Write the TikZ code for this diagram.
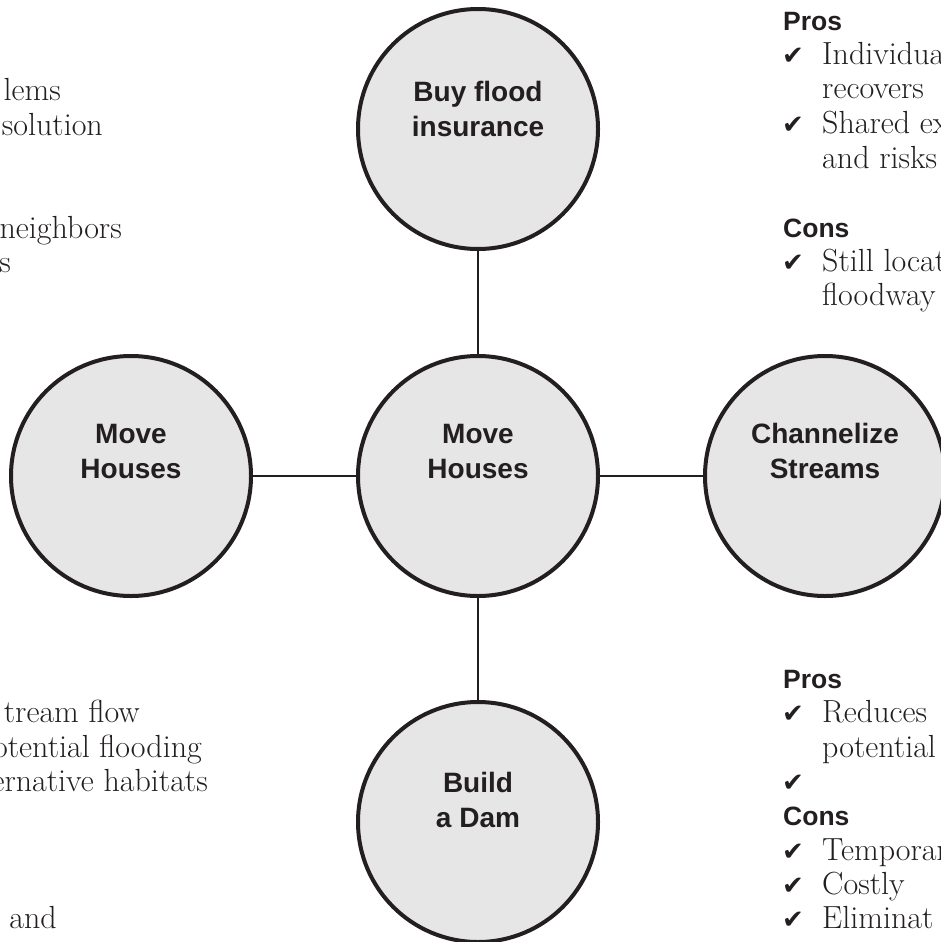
\documentclass[tikz,border=0pt]{standalone}
\usepackage{fontspec}
\setsansfont{Liberation Sans}
\newfontfamily\tickfont{DejaVu Sans}
\definecolor{inkblack}{HTML}{231F20}
\definecolor{bubblegray}{HTML}{E6E6E6}
\begin{document}
\begin{tikzpicture}[x=1pt,y=-1pt]
    % Define the styles for the bubbles, their labels and the lists
    \tikzstyle{bubble}=[circle, draw=inkblack, line width=4pt, fill=bubblegray, minimum size=240pt, inner sep=0pt]
    \tikzstyle{bubtext}=[align=center, inner sep=0pt, text=inkblack, font=\sffamily\bfseries\fontsize{28}{35}\selectfont]
    \tikzstyle{head}=[anchor=base west, inner sep=0pt, text=inkblack, font=\sffamily\bfseries\fontsize{26.5}{30}\selectfont]
    \tikzstyle{tickmark}=[anchor=base west, inner sep=0pt, text=inkblack, font=\tickfont\fontsize{26}{30}\selectfont]
    \tikzstyle{item}=[anchor=base west, inner sep=0pt, text=inkblack, font=\fontsize{32}{34}\selectfont]
    \tikzstyle{cutitem}=[item, anchor=base east]
    \tikzstyle{link}=[line width=2pt, draw=inkblack]

    \useasboundingbox (0,0) rectangle (940,942);

    % Draw the bubbles
    \node[bubble] (insure) at (478,129) {};
    \node[bubble] (mid) at (478,476) {};
    \node[bubble] (moveL) at (131,476) {};
    \node[bubble] (channel) at (825,476) {};
    \node[bubble] (dam) at (478,822) {};

    \node[bubtext, yshift=20pt] (insureT) at (insure) {Buy flood\\insurance};
    \node[bubtext, yshift=25pt] (midT) at (mid) {Move\\Houses};
    \node[bubtext, yshift=25pt] (moveLT) at (moveL) {Move\\Houses};
    \node[bubtext, yshift=25pt] (channelT) at (channel) {Channelize\\Streams};
    \node[bubtext, yshift=22pt] (damT) at (dam) {Build\\a Dam};

    % Draw the lines between the bubbles
    \draw[link] (insure) -- (mid);
    \draw[link] (moveL) -- (mid);
    \draw[link] (mid) -- (channel);
    \draw[link] (mid) -- (dam);

    % Pros and cons of flood insurance
    \node[head] (insPros) at (783,31) {Pros};
    \node[tickmark] (insTickA) at (782,65) {✔};
    \node[item] (insItemA) at (822,65) {Individua};
    \node[item] (insItemB) at (822,99) {recovers};
    \node[tickmark] (insTickB) at (782,133) {✔};
    \node[item] (insItemC) at (822,133) {Shared ex};
    \node[item] (insItemD) at (822,168) {and risks};
    \node[head] (insCons) at (783,237) {Cons};
    \node[tickmark] (insTickC) at (782,271) {✔};
    \node[item] (insItemE) at (822,271) {Still locat};
    \node[item] (insItemF) at (822,305) {floodway};

    % Pros and cons of channelizing
    \node[head] (chPros) at (783,688) {Pros};
    \node[tickmark] (chTickA) at (782,722) {✔};
    \node[item] (chItemA) at (822,722) {Reduces};
    \node[item] (chItemB) at (822,757) {potential};
    \node[tickmark] (chTickB) at (782,791) {✔};
    \node[head] (chCons) at (783,825) {Cons};
    \node[tickmark] (chTickC) at (782,860) {✔};
    \node[item] (chItemC) at (822,860) {Temporar};
    \node[tickmark] (chTickD) at (782,894) {✔};
    \node[item] (chItemD) at (822,894) {Costly};
    \node[tickmark] (chTickE) at (782,928) {✔};
    \node[item] (chItemE) at (822,928) {Eliminat};

    % What is left of the lists on the left edge
    \node[cutitem] (mvItemA) at (61,100) {lems};
    \node[cutitem] (mvItemB) at (103,135) {solution};
    \node[cutitem] (mvItemC) at (122,238) {neighbors};
    \node[cutitem] (mvItemD) at (11,272) {s};
    \node[cutitem] (dmItemA) at (140,722) {tream flow};
    \node[cutitem] (dmItemB) at (202,757) {otential flooding};
    \node[cutitem] (dmItemC) at (208,791) {ernative habitats};
    \node[cutitem] (dmItemD) at (57,928) {and};
\end{tikzpicture}
\end{document}
